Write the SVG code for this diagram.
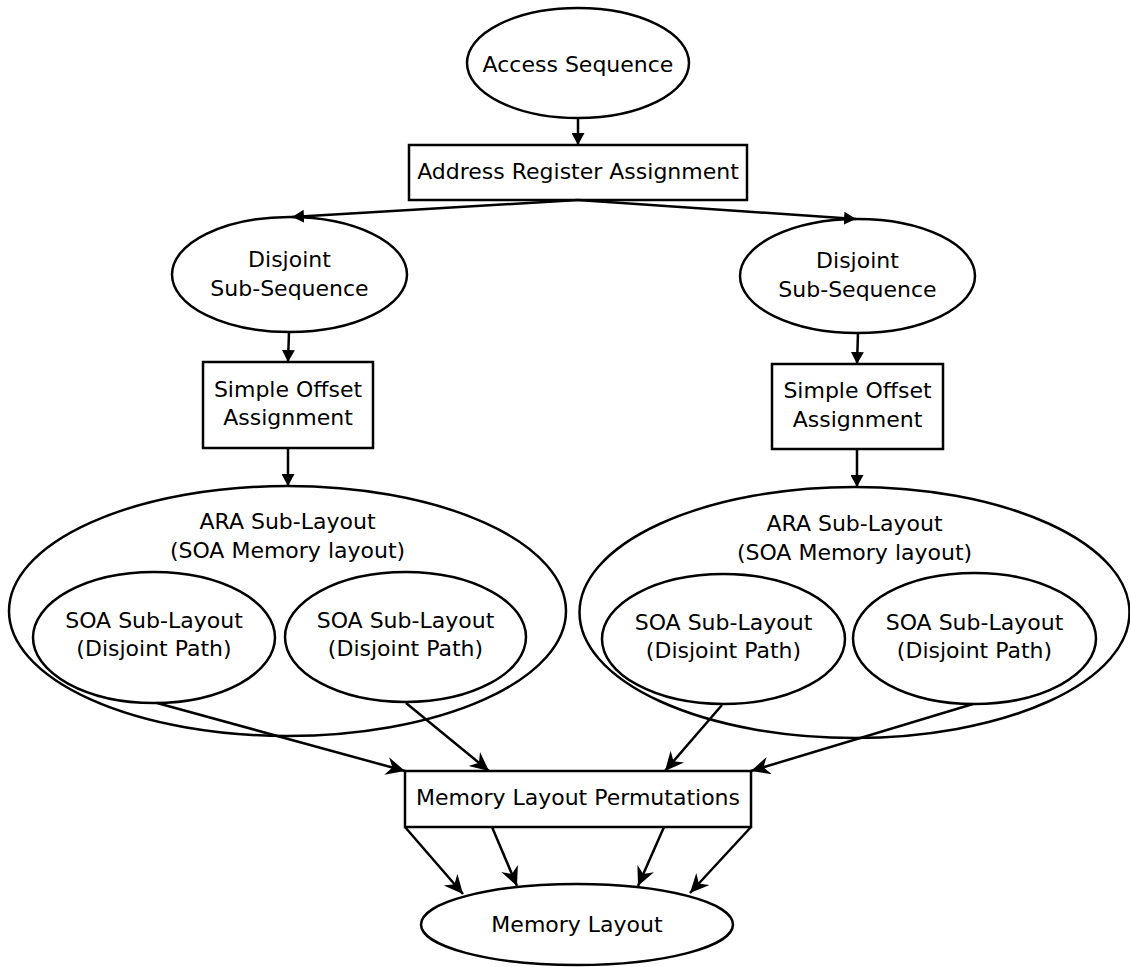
<svg xmlns="http://www.w3.org/2000/svg" width="1130" height="967" viewBox="0 0 1130 967">
<style>
.n{fill:none;stroke:#000;stroke-width:2.5}
text{font-family:"DejaVu Sans","Liberation Sans",sans-serif;font-size:22px;fill:#000;text-anchor:middle}
.c line{stroke:#000;stroke-width:2.5}
.t{marker-end:url(#tri)}
.s{marker-end:url(#stealth)}
</style>
<defs>
<marker id="tri" markerUnits="userSpaceOnUse" markerWidth="13" markerHeight="13" refX="12" refY="6.5" orient="auto" viewBox="0 0 13 13">
<path d="M0,0 L12,6.5 L0,13 z" fill="#000"/>
</marker>
<marker id="stealth" markerUnits="userSpaceOnUse" markerWidth="21" markerHeight="19" refX="19" refY="9" orient="auto" viewBox="0 0 21 19">
<path d="M0,0 L19,9 L0,18 L6,9 z" fill="#000"/>
</marker>
</defs>
<rect width="1130" height="967" fill="#fff"/>

<g id="access-sequence">
<ellipse class="n" cx="578" cy="63" rx="111" ry="55"/>
<text x="578" y="72">Access Sequence</text>
</g>
<g id="ara">
<rect class="n" x="409" y="145" width="338" height="55"/>
<text x="578" y="179">Address Register Assignment</text>
</g>
<g id="disjoint-left">
<ellipse class="n" cx="289.5" cy="274.5" rx="117.5" ry="57.5"/>
<text x="289.5" y="267">Disjoint</text>
<text x="289.5" y="296">Sub-Sequence</text>
</g>
<g id="disjoint-right">
<ellipse class="n" cx="857.5" cy="276" rx="117.5" ry="57"/>
<text x="857.5" y="268">Disjoint</text>
<text x="857.5" y="297">Sub-Sequence</text>
</g>
<g id="soa-left">
<rect class="n" x="203" y="362" width="170" height="86"/>
<text x="288" y="397">Simple Offset</text>
<text x="288" y="425">Assignment</text>
</g>
<g id="soa-right">
<rect class="n" x="772" y="364" width="171" height="85"/>
<text x="857.5" y="398">Simple Offset</text>
<text x="857.5" y="427">Assignment</text>
</g>
<g id="ara-sublayout-left">
<ellipse class="n" cx="287.5" cy="611" rx="278.5" ry="125"/>
<text x="287.5" y="529">ARA Sub-Layout</text>
<text x="287.5" y="558">(SOA Memory layout)</text>
</g>
<g id="ara-sublayout-right">
<ellipse class="n" cx="854.5" cy="612.5" rx="275" ry="125.5"/>
<text x="854.5" y="531">ARA Sub-Layout</text>
<text x="854.5" y="560">(SOA Memory layout)</text>
</g>
<g id="soa-sub-1">
<ellipse class="n" cx="154" cy="637.5" rx="121" ry="65.5"/>
<text x="154" y="628">SOA Sub-Layout</text>
<text x="154" y="656">(Disjoint Path)</text>
</g>
<g id="soa-sub-2">
<ellipse class="n" cx="405.5" cy="637" rx="120.5" ry="65"/>
<text x="405.5" y="628">SOA Sub-Layout</text>
<text x="405.5" y="656">(Disjoint Path)</text>
</g>
<g id="soa-sub-3">
<ellipse class="n" cx="723.5" cy="639" rx="121.5" ry="65"/>
<text x="723.5" y="630">SOA Sub-Layout</text>
<text x="723.5" y="658">(Disjoint Path)</text>
</g>
<g id="soa-sub-4">
<ellipse class="n" cx="974.5" cy="638.5" rx="121.5" ry="65.5"/>
<text x="974.5" y="630">SOA Sub-Layout</text>
<text x="974.5" y="658">(Disjoint Path)</text>
</g>
<g id="permutations">
<rect class="n" x="405" y="771" width="346" height="56"/>
<text x="578" y="805">Memory Layout Permutations</text>
</g>
<g id="memory-layout">
<ellipse class="n" cx="577" cy="924.5" rx="156" ry="40.5"/>
<text x="577" y="932">Memory Layout</text>
</g>

<g id="connectors" class="c">
<line class="t" x1="578" y1="118" x2="578" y2="145"/>
<line class="t" x1="578" y1="200" x2="292" y2="217"/>
<line class="t" x1="578" y1="200" x2="856" y2="219"/>
<line class="t" x1="289" y1="332" x2="288" y2="362"/>
<line class="t" x1="858" y1="333" x2="857" y2="364"/>
<line class="t" x1="288" y1="448" x2="288" y2="486"/>
<line class="t" x1="857" y1="449" x2="857" y2="487"/>
<line class="s" x1="157" y1="703" x2="405" y2="771"/>
<line class="s" x1="406" y1="703" x2="489" y2="771"/>
<line class="s" x1="722" y1="705" x2="665" y2="771"/>
<line class="s" x1="973" y1="704" x2="751" y2="771"/>
<line class="s" x1="405" y1="827" x2="463" y2="894"/>
<line class="s" x1="492" y1="827" x2="517" y2="886"/>
<line class="s" x1="664" y1="827" x2="638" y2="886"/>
<line class="s" x1="751" y1="827" x2="690" y2="893"/>
</g>
</svg>
